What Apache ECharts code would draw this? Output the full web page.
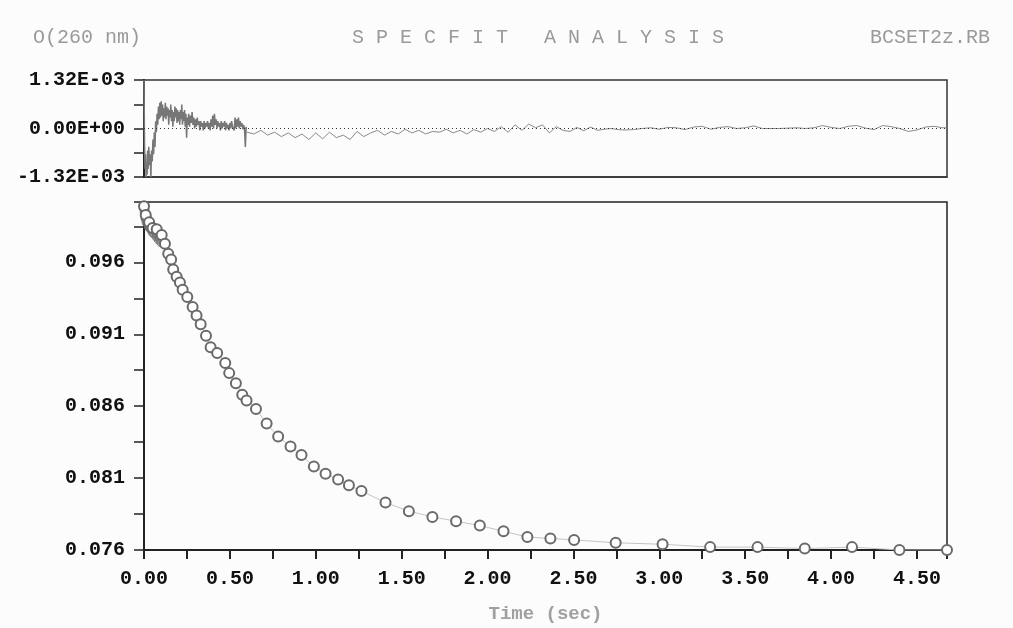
<!DOCTYPE html>
<html>
<head>
	<meta charset="utf-8">
	<title>SPECFIT ANALYSIS</title>
	<script type="text/javascript" src="https://cdn.jsdelivr.net/npm/echarts@6.0.0/dist/echarts.min.js"></script>
	<style>
		html, body { margin: 0; padding: 0; background: #fcfcfc; }
		#chart { width: 1013px; height: 628px; }
	</style>
</head>
<body>
<div id="chart"></div>
<script>
	// 轴刻度标签
	var xLabels = ['0.00', '0.50', '1.00', '1.50', '2.00', '2.50', '3.00', '3.50', '4.00', '4.50'];
	var yLabels = ['0.076', '0.081', '0.086', '0.091', '0.096'];
	var resLabels = ['-1.32E-03', '0.00E+00', '1.32E-03'];

	// early dense points (filled cluster near t = 0)
	var earlyT = [0.000, 0.002, 0.004, 0.006, 0.008, 0.010, 0.012, 0.015, 0.018, 0.021, 0.024, 0.027, 0.030, 0.034, 0.038, 0.042, 0.046, 0.050, 0.055, 0.060, 0.066, 0.072, 0.078, 0.085, 0.092, 0.100];
	var earlyV = [0.0999, 0.0997, 0.0995, 0.0993, 0.0991, 0.0994, 0.0990, 0.0988, 0.0991, 0.0987, 0.0989, 0.0985, 0.0988, 0.0984, 0.0986, 0.0983, 0.0985, 0.0981, 0.0983, 0.0980, 0.0982, 0.0978, 0.0979, 0.0976, 0.0977, 0.0974];

	// fitted data points (circles)
	var fitT = [0.000, 0.010, 0.030, 0.050, 0.074, 0.103, 0.122, 0.141, 0.158, 0.170, 0.190, 0.209, 0.225, 0.252, 0.283, 0.306, 0.330, 0.361, 0.388, 0.426, 0.473, 0.496, 0.535, 0.572, 0.597, 0.652, 0.714, 0.781, 0.853, 0.917, 0.989, 1.057, 1.130, 1.193, 1.266, 1.406, 1.542, 1.679, 1.817, 1.955, 2.093, 2.232, 2.366, 2.504, 2.746, 3.019, 3.296, 3.572, 3.847, 4.122, 4.398, 4.675];
	var fitV = [0.0999, 0.0993, 0.0988, 0.0984, 0.0983, 0.0979, 0.0973, 0.0966, 0.0962, 0.0955, 0.0950, 0.0946, 0.0941, 0.0936, 0.0929, 0.0923, 0.0917, 0.0909, 0.0901, 0.0897, 0.0890, 0.0883, 0.0876, 0.0868, 0.0864, 0.0858, 0.0848, 0.0839, 0.0832, 0.0826, 0.0818, 0.0813, 0.0809, 0.0805, 0.0801, 0.0793, 0.0787, 0.0783, 0.0780, 0.0777, 0.0773, 0.0769, 0.0768, 0.0767, 0.0765, 0.0764, 0.0762, 0.0762, 0.0761, 0.0762, 0.0760, 0.0760];

	// residuals [t, r]
	var residEarly = [
		[0.000, 0.00132], [0.003, -0.0004], [0.006, -0.0011], [0.009, -0.0007], [0.012, -0.00132], [0.015, -0.0009],
		[0.018, -0.00125], [0.021, -0.0006], [0.024, -0.0011], [0.028, -0.0005], [0.032, -0.0010], [0.036, -0.0007],
		[0.040, -0.00132], [0.044, -0.0006], [0.048, -0.0009], [0.052, -0.0003], [0.056, -0.0007], [0.060, -0.0001],
		[0.064, -0.0005], [0.068, 0.0002], [0.072, -0.0001], [0.076, 0.0004], [0.080, 0.0001], [0.084, 0.0006],
		[0.088, 0.00025], [0.092, 0.0007], [0.096, 0.0003], [0.100, 0.00074], [0.104, 0.00035], [0.108, 0.00065],
		[0.112, 0.0002], [0.116, 0.00055], [0.120, 0.0003], [0.124, 0.0007], [0.128, 0.00025], [0.132, 0.0006],
		[0.136, 0.00035], [0.140, 0.00055], [0.144, 0.0001], [0.148, 0.0005], [0.152, 0.0003], [0.156, 0.00065],
		[0.160, 0.0002], [0.164, 0.0005], [0.168, 0.00005], [0.172, 0.00045], [0.176, 0.0002], [0.180, 0.0006],
		[0.184, 0.0003], [0.188, 0.00055], [0.192, 0.00015], [0.196, 0.0005], [0.200, 0.0002], [0.204, 0.00045],
		[0.208, 0.0001], [0.212, 0.0005], [0.216, 0.00025], [0.220, 0.00065], [0.224, 0.0001], [0.228, 0.00045],
		[0.232, 0.0002], [0.236, 0.0005], [0.240, 0.00005], [0.244, 0.0004], [0.248, -0.00025], [0.252, 0.0003],
		[0.256, 0.0001], [0.260, 0.0004], [0.265, 0.00005], [0.270, 0.00035], [0.275, 0.00015], [0.280, 0.00045],
		[0.285, 0.0001], [0.290, 0.0003], [0.295, 0.0000], [0.300, 0.00025], [0.305, 0.00005], [0.310, 0.0003],
		[0.315, 0.0001], [0.320, 0.0002], [0.325, -0.00005], [0.330, 0.0002], [0.335, 0.00005], [0.340, 0.00015],
		[0.345, -0.00005], [0.350, 0.0002], [0.355, 0.0000], [0.360, 0.00015], [0.365, 0.00005], [0.370, 0.0002],
		[0.375, 0.0000], [0.380, 0.00015], [0.385, -0.00005], [0.390, 0.00025], [0.395, 0.00005], [0.400, 0.00035],
		[0.405, 0.0000], [0.410, 0.0004], [0.415, 0.0001], [0.420, 0.00025], [0.425, 0.0000], [0.430, 0.0002],
		[0.435, 0.00005], [0.440, 0.00015], [0.445, -0.00005], [0.450, 0.0002], [0.455, 0.0000], [0.460, 0.00015],
		[0.465, 0.00005], [0.470, 0.0002], [0.475, -0.00005], [0.480, 0.00015], [0.485, 0.0000], [0.490, 0.0001],
		[0.495, -0.00005], [0.500, 0.00015], [0.505, 0.0000], [0.510, 0.0002], [0.515, 0.00005], [0.520, 0.0001],
		[0.525, -0.00005], [0.530, 0.0003], [0.535, 0.0000], [0.540, 0.00025], [0.545, 0.00005], [0.550, 0.0003],
		[0.555, 0.0000], [0.560, 0.0002], [0.565, 0.00005], [0.570, 0.00015], [0.575, -0.00002], [0.580, 0.0001],
		[0.585, 0.0000], [0.590, -0.0005], [0.595, 0.00005]
	];
	var residLate = [
		[0.60, -0.00010], [0.64, -0.00015], [0.68, -0.00005], [0.72, -0.00018], [0.76, -0.00010], [0.80, -0.00022],
		[0.84, -0.00012], [0.88, -0.00025], [0.92, -0.00015], [0.96, -0.00030], [1.00, -0.00012], [1.04, -0.00028],
		[1.08, -0.00010], [1.12, -0.00025], [1.16, -0.00018], [1.20, -0.00030], [1.24, -0.00008], [1.28, -0.00022],
		[1.32, -0.00012], [1.36, -0.00005], [1.40, -0.00018], [1.44, -0.00008], [1.48, -0.00015], [1.52, -0.00002],
		[1.56, -0.00012], [1.60, -0.00005], [1.64, -0.00015], [1.68, -0.00008], [1.72, -0.00010], [1.76, -0.00002],
		[1.80, -0.00012], [1.84, -0.00005], [1.88, -0.00015], [1.92, -0.00003], [1.96, -0.00010], [2.00, 0.00000],
		[2.04, -0.00008], [2.08, 0.00005], [2.12, -0.00010], [2.16, 0.00010], [2.20, -0.00005], [2.24, 0.00012],
		[2.28, 0.00002], [2.32, 0.00010], [2.36, -0.00012], [2.40, 0.00005], [2.44, -0.00005], [2.48, -0.00008],
		[2.52, 0.00003], [2.56, -0.00006], [2.60, 0.00004], [2.64, -0.00005], [2.68, -0.00002], [2.72, 0.00000],
		[2.76, -0.00003], [2.80, -0.00004], [2.85, -0.00003], [2.90, 0.00000], [2.95, 0.00002], [3.00, -0.00002],
		[3.05, 0.00003], [3.10, 0.00002], [3.15, -0.00003], [3.20, 0.00004], [3.25, 0.00006], [3.30, -0.00002],
		[3.35, 0.00003], [3.40, 0.00005], [3.45, 0.00000], [3.50, 0.00002], [3.55, 0.00007], [3.60, 0.00000],
		[3.65, 0.00000], [3.70, 0.00000], [3.75, 0.00001], [3.80, 0.00002], [3.85, 0.00000], [3.90, 0.00002],
		[3.95, 0.00008], [4.00, 0.00003], [4.05, 0.00000], [4.10, 0.00006], [4.15, 0.00008], [4.20, 0.00001],
		[4.25, -0.00003], [4.30, 0.00008], [4.35, 0.00005], [4.40, 0.00000], [4.45, -0.00008], [4.50, -0.00004],
		[4.55, 0.00004], [4.60, 0.00006], [4.65, 0.00002], [4.675, 0.00002]
	];

	var monoFont = '"Liberation Mono", "DejaVu Sans Mono", monospace';

	function fmtRes(v) {
		if (Math.abs(v) < 1e-7) return '0.00E+00';
		if (Math.abs(Math.abs(v) - 0.00132) < 1e-7) return (v < 0 ? '-' : '') + '1.32E-03';
		return '';
	}

	var fitData = [];
	for (var i = 0; i < fitT.length; i++) fitData.push([fitT[i], fitV[i]]);
	var earlyData = [];
	for (var j = 0; j < earlyT.length; j++) earlyData.push([earlyT[j], earlyV[j]]);

	var labelStyle = { fontFamily: monoFont, fontWeight: 'bold', fontSize: 20, color: '#111' };
	var headStyle = { fontFamily: monoFont, fontWeight: 'normal', fontSize: 20, color: '#9a9a9a' };

	var myChart = echarts.init(document.getElementById('chart'));
	var option = {
		backgroundColor: '#fcfcfc',
		animation: false,
		title: [
			{ text: 'O(260 nm)', left: 28, top: 23, textStyle: headStyle },
			{ text: 'S P E C F I T   A N A L Y S I S', left: 347, top: 23, textStyle: headStyle },
			{ text: 'BCSET2z.RB', left: 865, top: 23, textStyle: headStyle }
		],
		grid: [
			{ left: 144, top: 80, width: 803, height: 97, show: true, borderColor: '#333', borderWidth: 1.5, backgroundColor: 'transparent', outerBoundsMode: 'none' },
			{ left: 144, top: 202, width: 803, height: 348, show: true, borderColor: '#222', borderWidth: 1.5, backgroundColor: 'transparent', outerBoundsMode: 'none' }
		],
		xAxis: [
			{
				type: 'value', gridIndex: 0, min: 0, max: 4.675,
				axisLine: { show: true, onZero: false, lineStyle: { color: '#333', width: 1.5 } },
				axisTick: { show: false }, axisLabel: { show: false }, splitLine: { show: false }
			},
			{
				type: 'value', gridIndex: 1, min: 0, max: 4.675, interval: 0.25,
				name: 'Time (sec)', nameLocation: 'middle', nameGap: 55,
				nameTextStyle: { fontFamily: monoFont, fontWeight: 'bold', fontSize: 19, color: '#a0a0a0' },
				axisLine: { show: true, onZero: false, lineStyle: { color: '#222', width: 2 } },
				axisTick: { show: true, length: 9, lineStyle: { color: '#222', width: 2 } },
				axisLabel: {
					margin: 19,
					formatter: function (v) {
						var s = v.toFixed(2);
						return xLabels.indexOf(s) >= 0 && Math.abs(v * 2 - Math.round(v * 2)) < 1e-6 ? s : '';
					},
					textStyle: labelStyle
				},
				splitLine: { show: false }
			}
		],
		yAxis: [
			{
				type: 'value', gridIndex: 0, min: -0.00132, max: 0.00132, interval: 0.00066,
				axisLine: { show: true, onZero: false, lineStyle: { color: '#222', width: 2 } },
				axisTick: { show: true, length: 10, lineStyle: { color: '#222', width: 1.5 } },
				axisLabel: {
					margin: 19,
					formatter: function (v) {
						var s = fmtRes(v);
						return resLabels.indexOf(s) >= 0 ? s : '';
					},
					textStyle: labelStyle
				},
				splitLine: { show: false }
			},
			{
				type: 'value', gridIndex: 1, min: 0.076, max: 0.1002, interval: 0.0025,
				axisLine: { show: true, onZero: false, lineStyle: { color: '#222', width: 2 } },
				axisTick: { show: true, length: 10, lineStyle: { color: '#222', width: 1.5 } },
				axisLabel: {
					margin: 19,
					formatter: function (v) {
						var s = v.toFixed(3);
						return (yLabels.indexOf(s) >= 0 && Math.abs(v * 1000 - Math.round(v * 1000)) < 1e-6) ? s : '';
					},
					textStyle: labelStyle
				},
				splitLine: { show: false }
			}
		],
		series: [
			{
				name: 'residEarly', type: 'line', xAxisIndex: 0, yAxisIndex: 0,
				data: residEarly, showSymbol: false,
				lineStyle: { color: '#777', width: 1.5 },
				markLine: {
					silent: true, symbol: ['none', 'none'], label: { show: false },
					lineStyle: { type: [1, 3], color: '#333', width: 1 },
					data: [{ yAxis: 0 }]
				}
			},
			{
				name: 'residLate', type: 'line', xAxisIndex: 0, yAxisIndex: 0,
				data: residLate, showSymbol: false,
				lineStyle: { color: '#8a8a8a', width: 1 }
			},
			{
				name: 'fit', type: 'line', xAxisIndex: 1, yAxisIndex: 1,
				data: fitData, symbol: 'emptyCircle', symbolSize: 10,
				lineStyle: { color: '#c4c4c4', width: 1 },
				itemStyle: { color: '#6a6a6a', borderWidth: 1 }
			},
			{
				name: 'early', type: 'scatter', xAxisIndex: 1, yAxisIndex: 1,
				data: earlyData, symbol: 'circle', symbolSize: 9,
				itemStyle: { color: 'rgba(130,130,130,0.55)', borderColor: '#6a6a6a', borderWidth: 1 }
			}
		]
	};
	myChart.setOption(option);
</script>
</body>
</html>
